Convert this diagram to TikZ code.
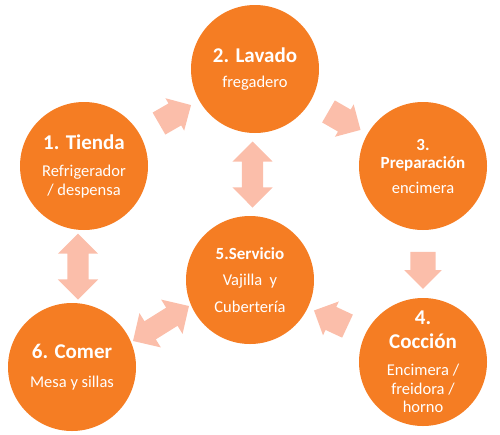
\documentclass[tikz,border=0pt]{standalone}
\usepackage{fontspec}
\setmainfont{Carlito}
\usepackage{tikz}
\usetikzlibrary{shapes.arrows, calc}
\definecolor{kitchenorange}{RGB}{245,125,35}
\definecolor{flowpink}{RGB}{251,190,170}
\newcommand{\stagebig}[1]{{\fontsize{21}{24}\selectfont\bfseries #1}}
\newcommand{\stagesmall}[1]{{\fontsize{17}{20}\selectfont\bfseries #1}}

\begin{document}
\begin{tikzpicture}[x=1pt, y=-1pt,
  stage/.style={circle, fill=kitchenorange, text=white, minimum size=128pt,
    inner sep=0pt, align=center, font=\fontsize{16.5}{18.5}\selectfont},
  flow/.style={single arrow, fill=flowpink, minimum height=37pt,
    inner xsep=0pt, inner ysep=12.5pt, single arrow head extend=6pt},
  twoway/.style={double arrow, fill=flowpink, minimum height=66pt,
    inner xsep=0pt, inner ysep=10.5pt, double arrow head extend=9.5pt}]
  \useasboundingbox (0,0) rectangle (500,434);

  % Stations
  \node[stage] (tienda) at (84,166) {\stagebig{1. Tienda}\\[9pt] Refrigerador\\ / despensa};
  \node[stage] (lavado) at (255,69) {\stagebig{2. Lavado}\\[7pt] fregadero};
  \node[stage] (prep) at (423,166) {\stagesmall{3.}\\ \stagesmall{Preparación}\\[6pt] encimera};
  \node[stage] (coccion) at (423,362) {\stagebig{4.}\\[5pt] \stagebig{Cocción}\\[9pt] Encimera /\\ freidora /\\ horno};
  \node[stage] (servicio) at (250,280) {\stagesmall{5.Servicio}\\[8pt] Vajilla~ y\\[8pt] Cubertería};
  \node[stage] (comer) at (72,367) {\stagebig{6. Comer}\\[10pt] Mesa y sillas};

  % One-way flow
  \node[flow, rotate=30] (f12) at ($(tienda)!0.5!(lavado)$) {};
  \node[flow, rotate=-30] (f23) at ($(lavado)!0.5!(prep)$) {};
  \node[flow, rotate=-90] (f34) at ($(prep)!0.5!(coccion)$) {};
  \node[flow, rotate=155] (f45) at ($(coccion)!0.5!(servicio)$) {};

  % Two-way flow
  \node[twoway, rotate=90] (f25) at ($(lavado)!0.5!(servicio)$) {};
  \node[twoway, rotate=90] (f16) at ($(tienda)!0.5!(comer)$) {};
  \node[twoway, rotate=32] (f56) at ($(servicio)!0.5!(comer)$) {};
\end{tikzpicture}
\end{document}
